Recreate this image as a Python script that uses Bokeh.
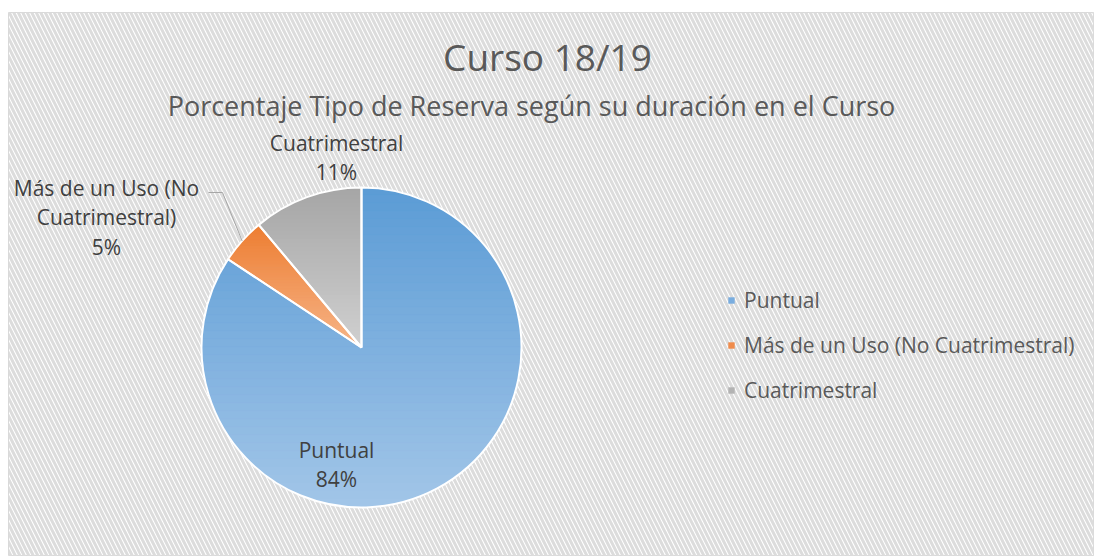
import math
import textwrap
from bokeh.plotting import figure
from bokeh.models import (ColumnDataSource, Range1d, BoxAnnotation, Legend, LegendItem)
from bokeh.core.properties import value
from bokeh.embed import file_html
from bokeh.resources import INLINE

# ---- data ----
categories = ["Puntual", "Más de un Uso (No Cuatrimestral)", "Cuatrimestral"]
values = [84.3, 4.6, 11.1]
title = "Curso 18/19"
subtitle = "Porcentaje Tipo de Reserva según su duración en el Curso"

# ---- style ----
colors = ["#79addf", "#f08c4c", "#b3b3b3"]
grad_top = ["#5b9bd5", "#ed7d31", "#a5a5a5"]
grad_bot = ["#a2c6e8", "#f6b589", "#d0d0d0"]

# ---- layout ----
W, H = 1094, 556
FW, FH = 1086, 544
cx, cy, R = 353, 209, 160
label_pos = [(328, 92), (98, 339), (328, 399)]
FONT = value("Open Sans")

total = sum(values)
fracs = [v / total for v in values]
starts, ends = [], []
a = math.pi / 2
for f in fracs:
    starts.append(a)
    a -= f * 2 * math.pi
    ends.append(a)

pct = [f"{round(f * 100)}%" for f in fracs]
labels = [textwrap.fill(c, 18) + "\n" + p for c, p in zip(categories, pct)]


def hex2rgb(h):
    return tuple(int(h[i:i + 2], 16) for i in (1, 3, 5))


def mix(c1, c2, t):
    a1, a2 = hex2rgb(c1), hex2rgb(c2)
    return "#%02x%02x%02x" % tuple(round(a1[k] + (a2[k] - a1[k]) * t) for k in range(3))


def clip(poly, y0, keep_above):
    out = []
    n = len(poly)
    for i in range(n):
        P, Q = poly[i], poly[(i + 1) % n]
        pin = (P[1] >= y0) if keep_above else (P[1] <= y0)
        qin = (Q[1] >= y0) if keep_above else (Q[1] <= y0)
        if pin:
            out.append(P)
        if pin != qin:
            t = (y0 - P[1]) / (Q[1] - P[1])
            out.append((P[0] + t * (Q[0] - P[0]), y0))
    return out


p = figure(width=W, height=H, output_backend="svg", toolbar_location=None,
           x_range=Range1d(0, FW), y_range=Range1d(0, FH),
           min_border_left=8, min_border_right=0, min_border_bottom=0, min_border_top=12)
p.axis.visible = False
p.grid.visible = False
p.outline_line_color = "#d9d9d9"
p.outline_line_width = 1
p.background_fill_color = "white"
p.border_fill_color = "white"

p.add_layout(BoxAnnotation(left=0, right=FW, bottom=0, top=FH, fill_alpha=0,
                           line_alpha=0, hatch_pattern="left_diagonal_line",
                           hatch_color="#dcdcdc", hatch_weight=3, hatch_scale=9,
                           level="underlay"))

src = ColumnDataSource(dict(cat=categories, val=values, color=colors,
                            start=starts, end=ends))
w = p.wedge(x=cx, y=cy, radius=R, start_angle="start", end_angle="end",
            direction="clock", fill_color="color", line_alpha=0, source=src)

# gradient bands (vertical gradient per slice)
xs, ys, fc = [], [], []
NB = 40
for k in range(len(values)):
    n = 200
    poly = [(cx, cy)]
    for i in range(n + 1):
        ang = starts[k] + (ends[k] - starts[k]) * i / n
        poly.append((cx + R * math.cos(ang), cy + R * math.sin(ang)))
    ytop = max(q[1] for q in poly)
    ybot = min(q[1] for q in poly)
    for b in range(NB):
        y1 = ytop - (ytop - ybot) * b / NB
        y0 = ytop - (ytop - ybot) * (b + 1) / NB
        band = clip(clip(poly, y0, True), y1, False)
        if len(band) < 3:
            continue
        xs.append([q[0] for q in band])
        ys.append([q[1] for q in band])
        c = mix(grad_top[k], grad_bot[k], (b + 0.5) / NB)
        fc.append(c)
p.patches(xs=xs, ys=ys, fill_color=fc, line_color=fc, line_width=1)

p.wedge(x=cx, y=cy, radius=R, start_angle="start", end_angle="end",
        direction="clock", fill_alpha=0, line_color="white", line_width=2, source=src)

# leader line for the small slice
mid = (starts[1] + ends[1]) / 2
ex, ey = cx + R * math.cos(mid), cy + R * math.sin(mid)
lx, ly = label_pos[1]
p.line([lx + 102, lx + 116, ex], [ly + 25, ly + 25, ey], line_color="#a6a6a6", line_width=1)

lsrc = ColumnDataSource(dict(x=[q[0] for q in label_pos], y=[q[1] for q in label_pos], t=labels))
p.text(x="x", y="y", text="t", source=lsrc, text_font=FONT, text_font_size="21px",
       text_color="#404040", text_align="center", text_baseline="middle",
       text_line_height=1.05)

p.text(x=[539], y=[500], text=[title], text_font=FONT, text_font_size="37px",
       text_color="#595959", text_align="center", text_baseline="middle")
p.text(x=[523], y=[451], text=[subtitle], text_font=FONT, text_font_size="27px",
       text_color="#595959", text_align="center", text_baseline="middle")

legend = Legend(items=[LegendItem(label=c, renderers=[w], index=i) for i, c in enumerate(categories)],
                location=(719, 152), orientation="vertical",
                background_fill_alpha=0, border_line_alpha=0,
                glyph_width=8, glyph_height=8, label_height=29, spacing=16,
                label_standoff=9, padding=0, margin=0,
                label_text_font="Open Sans", label_text_font_size="21px",
                label_text_color="#595959")
p.add_layout(legend, "center")

open("out.html", "w").write(file_html(p, INLINE))
